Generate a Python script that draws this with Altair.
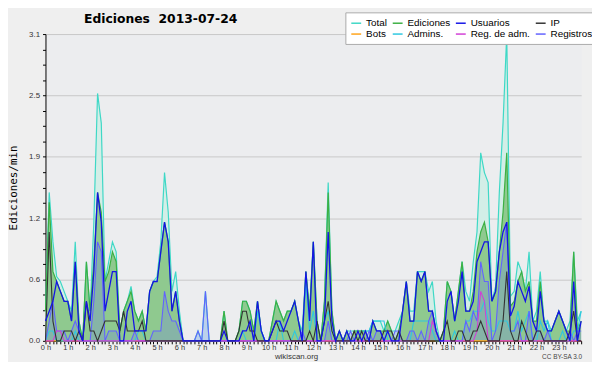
import altair as alt
import pandas as pd

# 10-minute bins over the day (0 .. 144)
bins = list(range(145))

total = [
    .3, 1.5, 1.0, .65, .6, .5, .4, .3, 1.0, .2, 0, .8,
    .3, 1.2, 2.5, 2.2, .6, .8, 1.0, .9, .1, .3, .4, .55,
    .3, .2, .3, .1, .5, .6, .65, 1.0, 1.7, 1.3, .5, .7,
    .3, 0, 0, 0, 0, .1, 0, .5, 0, 0, 0, 0,
    .3, 0, 0, 0, .1, .4, .4, .3, .1, .4, .1, 0,
    0, .2, .4, .3, .2, .3, .3, .4, .2, .1, .7, .3,
    1.0, .2, 0, .4, 1.6, .3, 0, .1, 0, .1, .1, .1,
    .1, .1, .1, .1, .2, .2, .2, .1, .2, .1, .1, .2,
    .3, .6, .3, .3, .7, .7, .7, .5, .6, .2, 0, .1,
    .6, .5, .2, .5, .8, .5, .4, .8, 1.1, 1.9, 1.7, 1.6,
    .4, .55, 1.5, 2.2, 3.1, .45, .5, .8, .7, .5, .9, .2,
    .3, .7, .2, .2, .1, .2, .3, .2, .1, .2, .9, .2,
    .3,
]
ediciones = [
    .3, 1.4, .7, .6, .5, .4, .4, .2, .8, .2, 0, .8,
    .3, .8, 1.5, 1.3, .6, .7, .9, .8, .1, .3, .4, .5,
    .3, .2, .3, .1, .5, .6, .6, .9, 1.2, 1.0, .3, .5,
    .2, 0, 0, 0, 0, 0, 0, 0, 0, 0, 0, 0,
    .3, 0, 0, 0, .1, .4, .4, .3, .1, .4, .1, 0,
    0, .2, .4, .3, .2, .3, .3, .4, .2, 0, .7, .3,
    1.0, .2, 0, .4, 1.5, .3, 0, .1, 0, .1, 0, .1,
    .1, .1, .1, 0, .2, .1, .1, .1, .2, .1, 0, .1,
    .3, .6, .2, .2, .7, .6, .7, .3, .3, .1, 0, .1,
    .6, .5, .2, .5, .8, .3, .3, .5, .9, 1.1, 1.2, 1.0,
    .4, .5, .9, 1.3, 1.9, .35, .4, .6, .7, .5, .6, .2,
    .2, .6, .2, .1, .1, .2, .3, .2, .1, .1, .9, .1,
    .2,
]
usuarios = [
    .2, .3, .4, .6, .5, .4, .4, .2, .8, .1, 0, .4,
    .2, .7, 1.5, 1.2, .3, .5, .7, .7, 0, 0, .3, .4,
    .1, .1, .1, .1, .5, .6, .6, .9, 1.2, 1.0, .3, .5,
    .2, 0, 0, 0, 0, 0, 0, 0, 0, 0, 0, 0,
    .1, 0, 0, 0, 0, .1, .1, .2, 0, .4, .1, 0,
    0, .1, .2, .2, .1, .2, .3, .4, .2, 0, .7, .2,
    1.0, 0, 0, .2, 1.1, .2, 0, .1, 0, .1, 0, 0,
    .1, 0, .1, 0, .2, .1, .1, 0, .1, 0, 0, 0,
    .3, .6, .2, .2, .7, .6, .7, .3, .3, .1, 0, 0,
    .4, .5, .2, .4, .7, .3, .3, .4, .8, .9, 1.0, 1.0,
    .4, .5, .9, 1.1, 1.2, .25, .35, .6, .5, .4, .55, .2,
    .1, .5, .2, .1, .1, .2, .3, .2, .1, 0, .6, 0,
    .2,
]
ip = [
    0, 1.1, .2, 0, 0, .1, .1, .1, 0, .1, 0, .4,
    .1, .1, 0, .1, .2, .2, .2, .2, .1, .3, .1, .1,
    .1, .1, .2, 0, 0, 0, 0, 0, 0, 0, 0, 0,
    0, 0, 0, 0, 0, 0, 0, 0, 0, 0, 0, 0,
    .2, 0, 0, 0, .1, .3, .3, .1, .1, 0, 0, 0,
    0, .1, .2, .1, .1, .1, 0, 0, 0, 0, 0, .1,
    0, .2, 0, .2, .4, .1, 0, 0, 0, 0, 0, .1,
    0, .1, 0, 0, 0, 0, 0, .1, .1, .1, 0, .1,
    0, 0, 0, 0, 0, 0, 0, 0, 0, 0, 0, .1,
    .2, 0, 0, .1, .1, 0, 0, .1, .1, .2, .1, 0,
    0, 0, 0, .2, .7, .1, 0, 0, .2, .1, 0, 0,
    .1, .1, 0, 0, 0, 0, 0, 0, 0, .1, .3, 0,
    0,
]
bots = [0.0] * 145
admins = [
    0, .1, .1, 0, 0, 0, 0, 0, .1, 0, 0, 0,
    0, 0, 0, 0, 0, 0, 0, 0, 0, 0, 0, 0,
    0, .1, .1, 0, 0, 0, 0, 0, 0, 0, 0, 0,
    0, 0, 0, 0, 0, 0, 0, 0, 0, 0, 0, 0,
    0, 0, 0, 0, 0, .1, 0, 0, 0, .3, .1, 0,
    0, 0, 0, .2, 0, 0, 0, .1, 0, 0, .6, .1,
    .3, 0, 0, .2, .3, .1, 0, 0, 0, 0, 0, 0,
    0, .1, .1, .1, .2, .2, .2, .2, 0, 0, 0, 0,
    0, 0, 0, .2, .2, .2, .2, .2, .1, 0, 0, 0,
    0, 0, .1, 0, 0, .2, .2, .3, .3, .3, .4, .2,
    .1, .1, .2, .2, .2, .1, .1, .3, .1, .2, .3, 0,
    0, .2, .1, .2, 0, 0, 0, .1, 0, 0, .1, .1,
    .3,
]
reg_adm = [
    0, 0, 0, .1, .1, 0, 0, 0, 0, 0, 0, 0,
    0, 0, 0, 0, 0, 0, 0, 0, 0, 0, 0, 0,
    0, 0, 0, 0, 0, 0, 0, 0, 0, 0, 0, 0,
    0, 0, 0, 0, 0, 0, 0, 0, 0, 0, 0, 0,
    0, 0, 0, 0, 0, 0, 0, 0, 0, 0, 0, 0,
    0, 0, 0, 0, 0, 0, 0, 0, 0, 0, 0, 0,
    0, 0, 0, 0, 0, 0, 0, 0, 0, 0, 0, 0,
    0, 0, 0, 0, 0, 0, 0, 0, 0, 0, 0, 0,
    0, 0, 0, 0, 0, 0, 0, 0, .2, .1, 0, 0,
    0, 0, 0, 0, 0, 0, 0, 0, .1, .5, .4, 0,
    0, 0, 0, 0, 0, 0, 0, 0, 0, 0, 0, 0,
    0, 0, 0, 0, 0, 0, 0, 0, 0, 0, 0, 0,
    0,
]
registros = [
    0, .2, .4, .1, .1, .1, 0, .1, .2, .1, 0, 0,
    0, .4, 1.0, .9, 0, .1, .1, .1, 0, 0, 0, 0,
    .1, 0, 0, 0, 0, .1, .1, .1, .5, .3, .2, .2,
    .1, 0, 0, 0, 0, .1, 0, .5, 0, 0, 0, 0,
    0, 0, 0, 0, 0, 0, 0, 0, 0, 0, 0, 0,
    0, 0, 0, 0, 0, 0, 0, 0, 0, .1, 0, 0,
    0, 0, 0, 0, .2, 0, 0, 0, 0, 0, .1, 0,
    0, 0, 0, .1, 0, .1, .1, 0, 0, 0, .1, .1,
    0, 0, .1, .1, 0, .1, 0, .2, .3, .1, 0, 0,
    0, 0, 0, 0, 0, .2, .1, .3, .2, .8, .6, .6,
    0, .1, .6, .9, 1.2, .1, .1, .2, 0, 0, .3, 0,
    .1, .1, 0, .1, 0, 0, 0, 0, 0, .1, 0, .1,
    .1,
]

# legend fills column by column: listed so the rows read
# Total, Ediciones, Usuarios, IP / Bots, Admins., Reg. de adm., Registros
series_names = ["Total", "Bots", "Ediciones", "Admins.",
                "Usuarios", "Reg. de adm.", "IP", "Registros"]
series_colors = ["#3ed8c6", "#ffa31a", "#3cb043", "#2ec8e0",
                 "#1414e6", "#d23fd6", "#333333", "#6262ff"]
series_values = [total, bots, ediciones, admins, usuarios, reg_adm, ip, registros]

title_text = "Ediciones\u00a0 2013-07-24"
footer_left = "wikiscan.org"
footer_right = "CC BY-SA 3.0"

rows = []
for name, vals in zip(series_names, series_values):
    for b, v in zip(bins, vals):
        rows.append({"bin": b, "series": name, "value": v})
long = pd.DataFrame(rows)

y_ticks = [round(k * 0.155, 3) for k in range(21)]
major_test = "round(datum.value / 0.155) % 4 === 0"

x_axis = alt.Axis(
    values=bins,
    labelExpr="datum.value % 6 === 0 && datum.value < 144 ? (datum.value / 6) + ' h' : ''",
    labelOverlap=False, labelFlush=False, grid=False, title=None,
    tickSize=3, tickColor="black", domainColor="black",
    labelFont="Liberation Sans", labelFontSize=7.5, labelColor="#333333",
    labelPadding=0,
)
y_axis = alt.Axis(
    values=y_ticks,
    labelExpr=major_test + " ? format(datum.value, '.1f') : ''",
    labelOverlap=False, labelFlush=False,
    tickSize=3, tickColor="black", domainColor="black",
    labelFont="Liberation Sans", labelFontSize=8, labelColor="#333333",
    labelPadding=3,
    grid=True, gridColor="#c8c8c8",
    gridOpacity={"condition": {"test": major_test, "value": 1}, "value": 0},
    title="Ediciones/min", titleFont="DejaVu Sans Mono", titleFontSize=11,
    titleFontWeight="normal", titleColor="black", titleAngle=270,
    titleX=-32, titleY=155.5, titleAlign="center", titleBaseline="middle",
)

X = alt.X("bin:Q", scale=alt.Scale(domain=[0, 144], nice=False, zero=False), axis=x_axis)
Y = alt.Y("value:Q", scale=alt.Scale(domain=[0, 3.1], nice=False, zero=True), axis=y_axis)

legend = alt.Legend(
    orient="none", legendX=304, legendY=-22, columns=4,
    symbolType="stroke", symbolSize=100, symbolStrokeWidth=1.5,
    labelFont="Liberation Sans", labelFontSize=10, labelColor="black",
    fillColor="white", strokeColor="#aaaaaa", padding=5,
    rowPadding=0, columnPadding=2, labelOffset=4, labelLimit=200, title=None,
)
C = alt.Color("series:N", scale=alt.Scale(domain=series_names, range=series_colors), legend=legend)

base = alt.Chart(long)


def area(name, color, opacity):
    return base.transform_filter(alt.datum.series == name).mark_area(
        color=color, opacity=opacity).encode(x=X, y=Y)


def line(name, width):
    return base.transform_filter(alt.datum.series == name).mark_line(
        strokeWidth=width).encode(x=X, y=Y, color=C)


layers = [
    area("Total", "#d3eee7", 1),
    area("Ediciones", "#8fc98f", 1),
    area("Registros", "#6a6aff", 0.22),
    line("Bots", 1.1),
    line("Total", 1.2),
    line("Ediciones", 1.2),
    line("Admins.", 1.1),
    line("Registros", 1.1),
    line("Reg. de adm.", 1.1),
    line("IP", 1.1),
    line("Usuarios", 1.3),
]

title_mark = alt.Chart(pd.DataFrame({"t": [title_text]})).mark_text(
    align="left", baseline="middle", font="DejaVu Sans", fontSize=12.5,
    fontWeight="bold", color="black",
).encode(x=alt.value(39), y=alt.value(-15), text="t:N")

footer1 = alt.Chart(pd.DataFrame({"t": [footer_left]})).mark_text(
    align="center", baseline="alphabetic", font="Liberation Sans", fontSize=8,
    color="#333333",
).encode(x=alt.value(254.5), y=alt.value(329), text="t:N")

footer2 = alt.Chart(pd.DataFrame({"t": [footer_right]})).mark_text(
    align="right", baseline="alphabetic", font="Liberation Sans", fontSize=6.5,
    color="#444444",
).encode(x=alt.value(544), y=alt.value(329), text="t:N")

chart = alt.layer(*layers, title_mark, footer1, footer2).properties(
    width=543, height=311,
    padding={"left": 38, "top": 24, "right": 11, "bottom": 19},
    autosize=alt.AutoSizeParams(type="none"),
    background="#efefef",
).configure_view(stroke="transparent", fill="#ecedef")

chart.save("out.html", embed_options={"renderer": "svg", "actions": False})
